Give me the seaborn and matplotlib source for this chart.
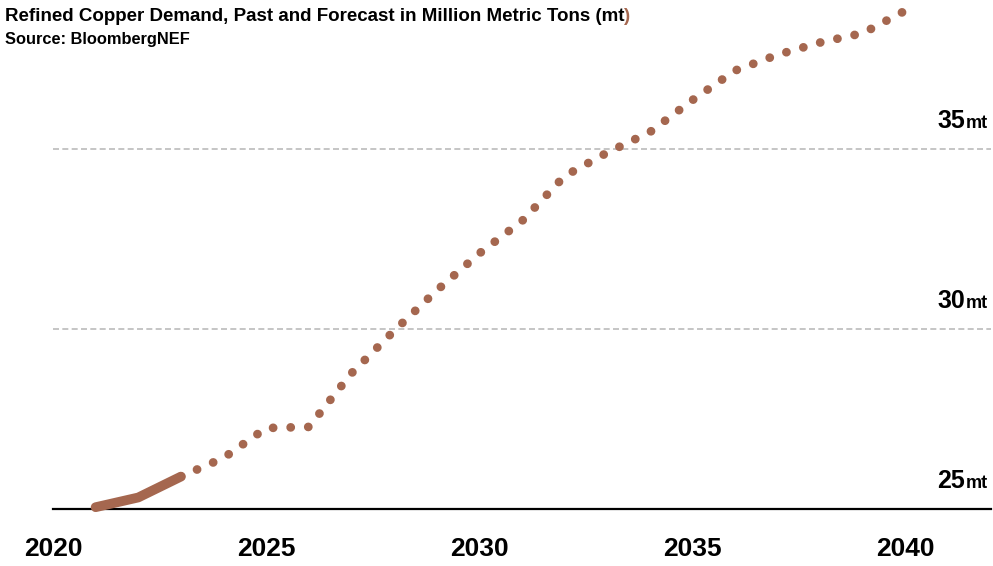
import matplotlib
matplotlib.use("Agg")
import matplotlib.pyplot as plt
import matplotlib.transforms as mtransforms
import seaborn as sns

# Past (solid) and forecast (dotted) refined copper demand, million metric tons
years_past = [2021, 2022, 2023]
demand_past = [25.05, 25.32, 25.9]

years_forecast = [2023, 2024, 2025, 2026, 2027, 2028, 2029, 2030, 2031,
                  2032, 2033, 2034, 2035, 2036, 2037, 2038, 2039, 2040]
demand_forecast = [25.9, 26.42, 27.25, 27.28, 28.77, 29.95, 31.07, 32.1, 33.0,
                   34.25, 34.9, 35.47, 36.36, 37.18, 37.62, 37.96, 38.22, 38.85]

x_ticks = [2020, 2025, 2030, 2035, 2040]
y_levels = [25, 30, 35]

title = "Refined Copper Demand, Past and Forecast in Million Metric Tons (mt"
source = "Source: BloombergNEF"

copper = "#A5674F"

sns.set_style("white")
plt.rcParams["font.family"] = ["Liberation Sans", "DejaVu Sans"]
plt.rcParams["text.color"] = "black"
plt.rcParams["xtick.color"] = "black"

fig = plt.figure(figsize=(9.93, 5.66), dpi=100)
ax = fig.add_axes([53 / 993, 57 / 566, 938 / 993, 504 / 566])

# forecast as a round-dotted line, past as a thick solid line
sns.lineplot(x=years_forecast, y=demand_forecast, ax=ax, color=copper,
             lw=6.3, linestyle=(0, (0.01, 2.0)), dash_capstyle="round",
             clip_on=False, zorder=3)
sns.lineplot(x=years_past, y=demand_past, ax=ax, color=copper,
             lw=7, solid_capstyle="round", clip_on=False, zorder=4)

for lvl in y_levels[1:]:
    ax.axhline(lvl, color="#BBBBBB", lw=1.2, ls=(0, (3.6, 2.0)), zorder=1)

ax.set_xlim(2020, 2042)
ax.set_ylim(25, 39)
ax.set_xticks(x_ticks)
ax.set_xticklabels([str(t) for t in x_ticks], fontsize=19, fontweight="bold")
ax.set_yticks([])
ax.tick_params(axis="x", length=7, width=1.6, pad=13, color="black")
for side in ["top", "left", "right"]:
    ax.spines[side].set_visible(False)
ax.spines["bottom"].set_linewidth(1.6)
ax.spines["bottom"].set_color("black")

# right-hand level labels: big number + small "mt"
unit_texts = []
for lvl in y_levels:
    t = ax.text(2041.93, lvl + 21 / 36, "mt", ha="right", va="baseline",
                fontsize=13, fontweight="bold", clip_on=False)
    unit_texts.append((lvl, t))

title_txt = fig.text(5 / 993, 1 - 21 / 566, title, ha="left", va="baseline",
                     fontsize=13.5, fontweight="bold")
fig.text(5 / 993, 1 - 44 / 566, source, ha="left", va="baseline",
         fontsize=11.8, fontweight="bold")

fig.canvas.draw()
renderer = fig.canvas.get_renderer()
blend = mtransforms.blended_transform_factory(mtransforms.IdentityTransform(), ax.transData)
for lvl, t in unit_texts:
    bb = t.get_window_extent(renderer)
    ax.text(bb.x0 - 1, lvl + 21 / 36, str(lvl), ha="right", va="baseline",
            fontsize=18, fontweight="bold", transform=blend, clip_on=False)

# closing parenthesis of the title in copper
bb = title_txt.get_window_extent(renderer)
fig.text(bb.x1 / fig.bbox.width, 1 - 21 / 566, ")", ha="left", va="baseline",
         fontsize=13.5, fontweight="bold", color=copper)

fig.savefig("out.png", dpi=100)
